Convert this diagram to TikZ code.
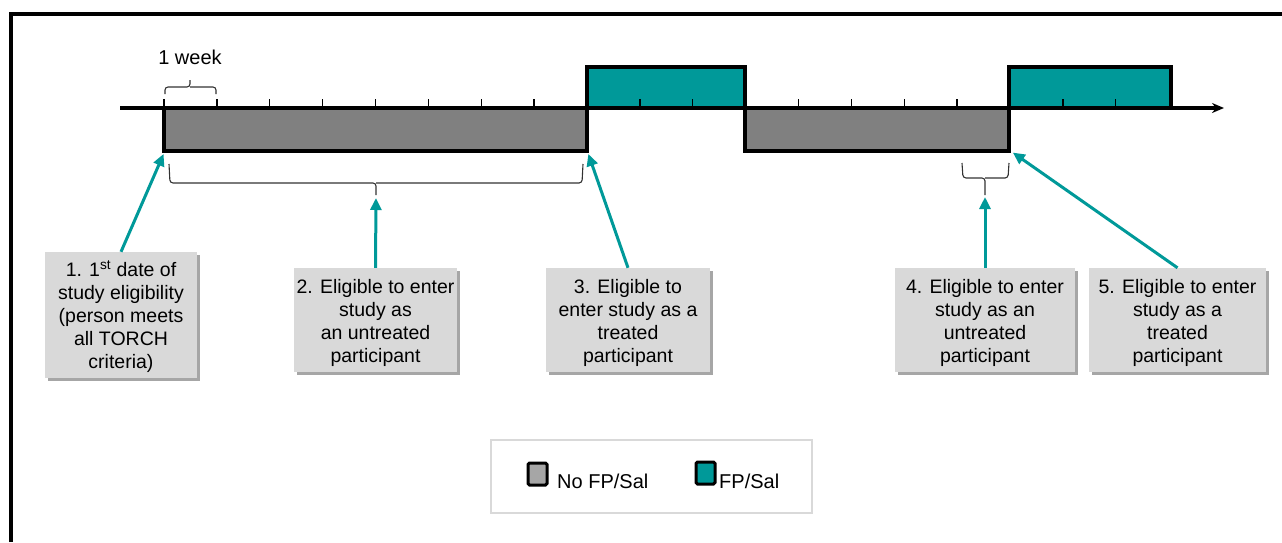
\documentclass[tikz,border=0pt]{standalone}
\usepackage{fontspec}
\setmainfont{Liberation Sans}
\usetikzlibrary{arrows.meta,shadows,calc}
\definecolor{tealc}{RGB}{0,153,153}
\definecolor{darkbox}{RGB}{128,128,128}
\definecolor{lightbox}{RGB}{217,217,217}
\definecolor{swgray}{RGB}{166,166,166}
\definecolor{bracec}{RGB}{50,50,50}
\newcommand{\topstrut}{\rule{0pt}{20pt}}
\begin{document}
\begin{tikzpicture}[x=1pt,y=-1pt,
  tbox/.style={fill=lightbox, draw=none, align=center, inner sep=0pt,
    font=\fontsize{19.5}{23}\selectfont,
    drop shadow={shadow xshift=3pt, shadow yshift=-3pt, fill=black, opacity=0.35}},
  tarrow/.style={draw=tealc, line width=3pt, -{Triangle[length=12pt,width=11pt]}, shorten >=1pt},
  tick/.style={line width=1.3pt},
  brc/.style={draw=bracec, line width=1.1pt, rounded corners=3pt},
  outl/.style={line width=3.5pt, line join=miter},
  swatch/.style={draw=black, line width=3pt, rounded corners=1.5pt, minimum width=19pt, minimum height=22pt, inner sep=0pt},
  lgtext/.style={font=\fontsize{20}{24}\selectfont, inner sep=0pt, anchor=west}
]
\useasboundingbox (0,0) rectangle (1282,542);
% frame
\draw[line width=3.5pt] (11,542) -- (11,14) -- (1282,14);

% bars
\fill[darkbox] (164,108) rectangle (587,151);
\fill[tealc] (587,67) rectangle (745,108);
\fill[darkbox] (745,108) rectangle (1009,151);
\fill[tealc] (1009,67) rectangle (1171,108);

% axis
\draw[line width=3.5pt, -{Stealth[length=12pt,width=10pt]}] (120,108) -- (1224,108);
% ticks
\foreach \k in {0,...,18} {
  \draw[tick] ({164+52.875*\k},108) -- ({164+52.875*\k},99);
}
% outlines
\draw[outl] (164,108) -- (164,151) -- (587,151) -- (587,67) -- (745,67) -- (745,151) -- (1009,151) -- (1009,67) -- (1171,67) -- (1171,108);

% corner coordinates
\coordinate (c1) at (164,153);
\coordinate (c3) at (588,153);
\coordinate (c5) at (1012,152);
\coordinate (t2) at (376,197);
\coordinate (t4) at (985,196);

% 1 week bracket
\node[font=\fontsize{20}{23}\selectfont, inner sep=0pt] (wk) at (190,57) {1 week};
\draw[brc] (165,94) -- (165,87) -- (190,87) -- (190,80);
\draw[brc] (216,94) -- (216,87) -- (190,87);

% brace 1
\draw[brc] (169,164) -- (170,183) -- (376,183) -- (376,195);
\draw[brc] (583,164) -- (582,183) -- (376,183);
% brace 2
\draw[brc] (962,163) -- (963,178) -- (985,178) -- (985,195);
\draw[brc] (1009,163) -- (1008,178) -- (985,178);

% text boxes
\node[tbox, minimum width=152pt, minimum height=126pt] (b1) at (121,315)
  {\topstrut 1. 1\textsuperscript{st} date of\\study eligibility\\(person meets\\all TORCH\\criteria)};
\node[tbox, minimum width=163pt, minimum height=104pt] (b2) at (375.5,320)
  {\topstrut 2. Eligible to enter\\study as\\an untreated\\participant};
\node[tbox, minimum width=164pt, minimum height=104pt] (b3) at (628,320)
  {\topstrut 3. Eligible to\\enter study as a\\treated\\participant};
\node[tbox, minimum width=180pt, minimum height=104pt] (b4) at (985,320)
  {\topstrut 4. Eligible to enter\\study as an\\untreated\\participant};
\node[tbox, minimum width=177pt, minimum height=104pt] (b5) at (1177.5,320)
  {\topstrut 5. Eligible to enter\\study as a\\treated\\participant};

% arrows
\draw[tarrow] (b1.north) -- (c1);
\draw[tarrow] (b2.north) -- (t2);
\draw[tarrow] (b3.north) -- (c3);
\draw[tarrow] (b4.north) -- (t4);
\draw[tarrow] (b5.north) -- (c5);

% legend
\node[draw=lightbox, line width=1.2pt, fill=white, minimum width=321pt, minimum height=73pt, inner sep=0pt] (lg) at (651.5,476.5) {};
\node[swatch, fill=swgray] (s1) at (537.5,474) {};
\node[lgtext] (l1) at (557,481.5) {No FP/Sal};
\node[swatch, fill=tealc] (s2) at (705.5,473) {};
\node[lgtext] (l2) at (719,481.5) {FP/Sal};
\end{tikzpicture}
\end{document}
